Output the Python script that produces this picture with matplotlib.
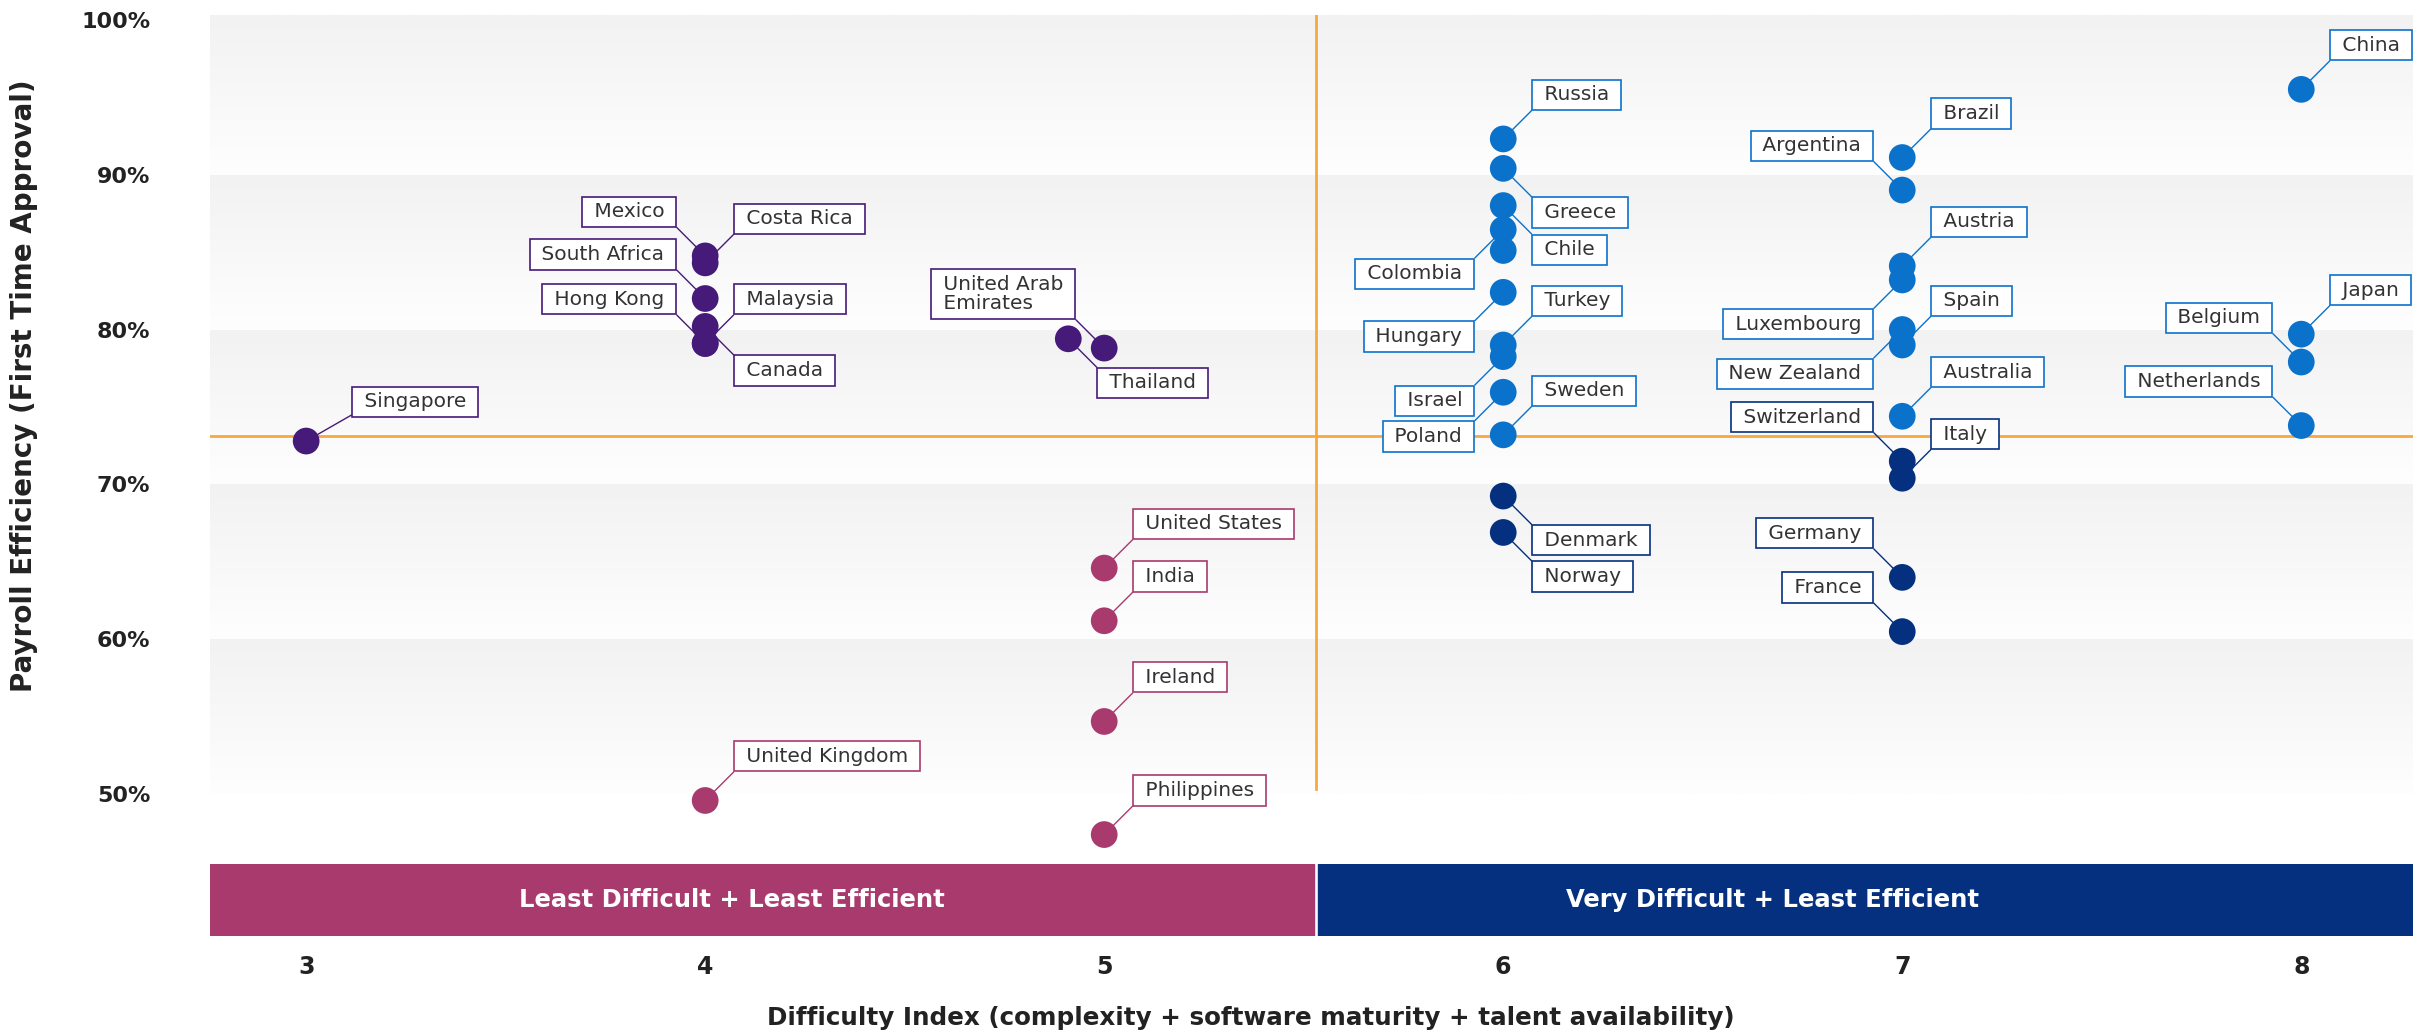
import numpy as np
import matplotlib.pyplot as plt
from matplotlib.colors import LinearSegmentedColormap

plt.rcParams['font.family'] = ['DejaVu Sans']

# countries, difficulty index and first time approval (%)
countries = ["Singapore", "Mexico", "Costa Rica", "South Africa", "Canada", "Hong Kong",
             "Malaysia", "Thailand", "United Arab\nEmirates",
             "United States", "India", "Ireland", "United Kingdom", "Philippines",
             "Russia", "Greece", "Chile", "Colombia", "", "Hungary", "Turkey", "Israel",
             "Poland", "Sweden",
             "Brazil", "Argentina", "Austria", "Luxembourg", "New Zealand", "Spain", "Australia",
             "China", "Japan", "Belgium", "Netherlands",
             "Switzerland", "Italy", "Germany", "France", "Denmark", "Norway"]
difficulty = [3, 4, 4, 4, 4, 4,
              4, 4.91, 5,
              5, 5, 5, 4, 5,
              6, 6, 6, 6, 6, 6, 6, 6,
              6, 6,
              7, 7, 7, 7, 7, 7, 7,
              8, 8, 8, 8,
              7, 7, 7, 7, 6, 6]
efficiency = [72.8, 84.75, 84.3, 82.0, 80.2, 79.1,
              79.1, 79.4, 78.8,
              64.6, 61.2, 54.7, 49.6, 47.4,
              92.3, 90.4, 88.0, 86.45, 85.1, 82.4, 79.0, 78.25,
              75.95, 73.2,
              91.1, 89.0, 84.1, 83.2, 80.0, 79.0, 74.4,
              95.5, 79.7, 77.9, 73.8,
              71.5, 70.4, 64.0, 60.5, 69.25, 66.9]
segment = ["easy_eff"] * 9 + ["easy_ineff"] * 5 + ["hard_eff"] * 21 + ["hard_ineff"] * 6

# where the label box sits relative to its dot (u/d + l/r)
label_side = ["ur", "ul", "ur", "ul", "dr", "ul",
              "ur", "dr", "ul",
              "ur", "ur", "ur", "ur", "ur",
              "ur", "dr", "dr", "dl", "", "dl", "ur", "dl",
              "dl", "ur",
              "ur", "ul", "ur", "dl", "dl", "ur", "ur",
              "ur", "ur", "ul", "ul",
              "ul", "ur", "ul", "ul", "dr", "dr"]

y_ticks = [50, 60, 70, 80, 90, 100]
x_ticks = [3, 4, 5, 6, 7, 8]
split_x = 5.531     # quadrant divider (difficulty)
split_y = 73.1      # quadrant divider (efficiency)
band_names = ["Least Difficult + Least Efficient", "Very Difficult + Least Efficient"]

colors = {"easy_eff": "#461a78", "easy_ineff": "#a83a6e",
          "hard_eff": "#0b72cb", "hard_ineff": "#05307f"}
orange = "#f7a940"
dark = "#222222"

xmin, xmax = 2.759, 8.28
ymin, ymax = 45.5, 100.3

fig = plt.figure(figsize=(24.3, 10.35), dpi=100)
ax = fig.add_axes([210 / 2430, 1 - 864 / 1035, 2203 / 2430, 849 / 1035])
ax.set_xlim(xmin, xmax)
ax.set_ylim(ymin, ymax)

# gray gradient stripes
cmap = LinearSegmentedColormap.from_list("stripe", ["#fefefe", "#f2f2f2"])
grad = np.linspace(0, 1, 100).reshape(-1, 1)
for lo in y_ticks[:-1]:
    hi = lo + 10 if lo < 90 else ymax
    ax.imshow(grad, cmap=cmap, aspect="auto", origin="lower",
              extent=(xmin, xmax, lo, hi), zorder=0, vmin=0, vmax=1)

# quadrant lines
ax.axhline(split_y, color=orange, lw=2, zorder=1)
ax.plot([split_x, split_x], [50.35, ymax], color=orange, lw=2, zorder=1)

cols = [colors[s] for s in segment]
ax.scatter(difficulty, efficiency, s=370, c=cols, edgecolors="none", zorder=6)

fs = 14.5
PAD = 0.28
pad_px = PAD * fs * 100 / 72
for name, x, y, seg, side in zip(countries, difficulty, efficiency, segment, label_side):
    if not name:
        continue
    sx = 1 if side[1] == "r" else -1
    sy = 1 if side[0] == "u" else -1
    ox, oy = (46, 24) if name == "Singapore" else (29, 29)
    txt = "\n".join(f" {part} " for part in name.split("\n"))
    ax.annotate(txt, (x, y), xytext=(sx * (ox + pad_px), sy * (oy + pad_px)),
                textcoords="offset pixels",
                ha="left" if sx > 0 else "right", va="bottom" if sy > 0 else "top",
                multialignment="left", fontsize=fs, color="#333333", linespacing=1.05,
                bbox=dict(boxstyle=f"square,pad={PAD}", fc="white", ec=colors[seg], lw=1.2),
                arrowprops=dict(arrowstyle="-", color=colors[seg], lw=1.0, shrinkA=0, shrinkB=0,
                                relpos=(0 if sx > 0 else 1, 0 if sy > 0 else 1)),
                zorder=5)

ax.set_yticks(y_ticks)
ax.set_yticklabels([f"{v}%" for v in y_ticks], fontsize=16, fontweight="bold", color=dark)
ax.set_xticks([])
ax.tick_params(axis="y", length=0, pad=43)
for sp in ax.spines.values():
    sp.set_visible(False)

# bottom band with the quadrant names
axb = fig.add_axes([210 / 2430, 1 - 936 / 1035, 2203 / 2430, 72 / 1035])
axb.set_xlim(xmin, xmax)
axb.set_ylim(0, 1)
axb.axvspan(xmin, split_x - 0.004, color=colors["easy_ineff"])
axb.axvspan(split_x + 0.004, xmax, color=colors["hard_ineff"])
axb.text(4.068, 0.5, band_names[0], color="white", fontsize=17.5, fontweight="bold",
         ha="center", va="center")
axb.text(6.674, 0.5, band_names[1], color="white", fontsize=17.5, fontweight="bold",
         ha="center", va="center")
axb.set_yticks([])
axb.set_xticks(x_ticks)
axb.set_xticklabels([str(t) for t in x_ticks], fontsize=17, fontweight="bold", color=dark)
axb.tick_params(axis="x", length=0, pad=14)
for sp in axb.spines.values():
    sp.set_visible(False)

fig.text(24 / 2430, 1 - 386 / 1035, "Payroll Efficiency (First Time Approval)", rotation=90,
         ha="center", va="center", fontsize=20, fontweight="bold", color=dark)
fig.text(1251 / 2430, 1 - 1018 / 1035,
         "Difficulty Index (complexity + software maturity + talent availability)",
         ha="center", va="center", fontsize=17.7, fontweight="bold", color=dark)

fig.savefig("out.png", dpi=100, facecolor="white")
